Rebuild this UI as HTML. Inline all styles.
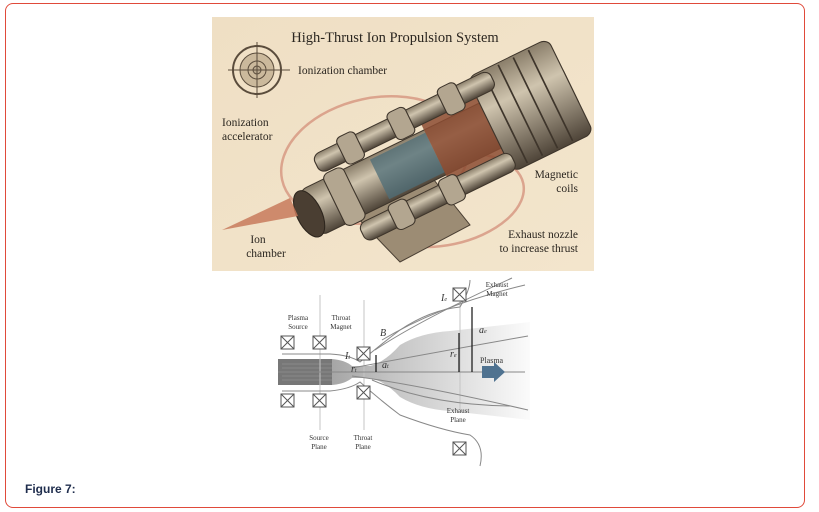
<!DOCTYPE html>
<html><head><style>
body{margin:0;width:819px;height:512px;background:#fff;position:relative;font-family:"Liberation Sans",sans-serif;overflow:hidden}
.frame{position:absolute;left:5px;top:3px;width:800px;height:505px;border:1px solid #e04a3a;border-radius:8px;box-sizing:border-box}
.fig{position:absolute;left:25px;top:482px;font-size:12px;font-weight:bold;color:#1f2d4d}
svg{position:absolute;left:0;top:0}
</style></head><body>
<div class="frame"></div>
<svg width="819" height="512" viewBox="0 0 819 512" font-family="Liberation Serif, serif">
<defs>
<linearGradient id="bg" x1="0" y1="0" x2="1" y2="1"><stop offset="0" stop-color="#efdfc4"/><stop offset="1" stop-color="#f3e5cc"/></linearGradient>
<linearGradient id="cyl" x1="0" y1="0" x2="0" y2="1"><stop offset="0" stop-color="#8a7e6a"/><stop offset=".35" stop-color="#cfc4ae"/><stop offset="1" stop-color="#4e4438"/></linearGradient>
<linearGradient id="plume" x1="0" y1="0" x2="1" y2="0"><stop offset="0" stop-color="#8a8a8a"/><stop offset=".45" stop-color="#c4c4c4"/><stop offset="1" stop-color="#fbfbfb"/></linearGradient>
<g id="b"><rect x="0" y="0" width="13" height="13" fill="#fff" stroke="#555"/><line x1="0" y1="0" x2="13" y2="13" stroke="#555"/><line x1="13" y1="0" x2="0" y2="13" stroke="#555"/></g>
</defs>
<rect x="212" y="17" width="382" height="254" fill="url(#bg)"/>
<text x="395" y="42" font-size="14.5" text-anchor="middle" fill="#2b2620">High-Thrust Ion Propulsion System</text>
<g stroke="#5a4c3c" fill="none"><circle cx="257" cy="70" r="24" stroke-width="2"/><circle cx="257" cy="70" r="17" fill="#cbb99c"/><circle cx="257" cy="70" r="9"/><circle cx="257" cy="70" r="4" fill="#b8a88e"/><line x1="228" y1="70" x2="290" y2="70"/><line x1="257" y1="42" x2="257" y2="98"/></g>
<text x="298" y="74" font-size="11.5" fill="#2b2620">Ionization chamber</text>
<text x="222" y="126" font-size="11.5" fill="#2b2620">Ionization</text>
<text x="222" y="140" font-size="11.5" fill="#2b2620">accelerator</text>
<text x="578" y="178" font-size="11.5" fill="#2b2620" text-anchor="end">Magnetic</text>
<text x="578" y="192" font-size="11.5" fill="#2b2620" text-anchor="end">coils</text>
<text x="578" y="238" font-size="11.5" fill="#2b2620" text-anchor="end">Exhaust nozzle</text>
<text x="578" y="252" font-size="11.5" fill="#2b2620" text-anchor="end">to increase thrust</text>
<text x="258" y="243" font-size="11.5" fill="#2b2620" text-anchor="middle">Ion</text>
<text x="266" y="257" font-size="11.5" fill="#2b2620" text-anchor="middle">chamber</text>
<g fill="none" stroke="#d89a84" stroke-width="2.5" opacity=".85"><ellipse cx="375" cy="160" rx="95" ry="62" transform="rotate(-12 375 160)"/><ellipse cx="445" cy="200" rx="80" ry="45" transform="rotate(-12 445 200)"/></g>
<polygon points="350,210 430,175 470,225 400,262" fill="#9c8c74" stroke="#4a3f33"/>
<g transform="translate(440 150) rotate(-26) scale(1.12 1) translate(-425 -153)">
<rect x="295" y="128" width="260" height="50" rx="8" fill="url(#cyl)" stroke="#3e352b"/>
<rect x="365" y="131" width="55" height="44" fill="#4e6e78" opacity=".75"/>
<rect x="420" y="118" width="55" height="70" fill="#8c4c32" opacity=".85"/>
<rect x="475" y="100" width="80" height="105" rx="8" fill="url(#cyl)" stroke="#3e352b"/>
<g stroke="#3e352b" stroke-width="1.5"><line x1="490" y1="102" x2="490" y2="203"/><line x1="505" y1="102" x2="505" y2="203"/><line x1="520" y1="102" x2="520" y2="203"/><line x1="535" y1="102" x2="535" y2="203"/></g>
<rect x="320" y="102" width="175" height="20" rx="7" fill="url(#cyl)" stroke="#3e352b"/>
<rect x="330" y="184" width="150" height="20" rx="7" fill="url(#cyl)" stroke="#3e352b"/>
<g fill="#b3a690" stroke="#3e352b"><rect x="345" y="97" width="18" height="30" rx="5"/><rect x="395" y="97" width="18" height="30" rx="5"/><rect x="445" y="97" width="18" height="30" rx="5"/><rect x="360" y="180" width="18" height="28" rx="5"/><rect x="410" y="180" width="18" height="28" rx="5"/><rect x="320" y="124" width="20" height="58" rx="6"/></g>
<ellipse cx="295" cy="153" rx="11" ry="25" fill="#4a3e32" stroke="#2e261e"/>
</g>
<polygon points="222,230 290,198 298,216" fill="#c87a5c" opacity=".85"/>
<path d="M278 359 L332 359 Q345 360 352 366 L370 366 Q385 362 400 345 Q420 333 450 331 L530 322 L530 420 L450 411 Q420 409 400 397 Q385 381 370 378 L352 378 Q345 384 332 385 L278 385 Z" fill="url(#plume)"/>
<rect x="278" y="359" width="54" height="26" fill="#777"/>
<g stroke="#999" stroke-width=".6"><line x1="282" y1="364" x2="332" y2="364"/><line x1="282" y1="368" x2="332" y2="368"/><line x1="282" y1="376" x2="332" y2="376"/><line x1="282" y1="380" x2="332" y2="380"/></g>
<g stroke="#c4c4c4" fill="none"><line x1="320" y1="295" x2="320" y2="430"/><line x1="364" y1="300" x2="364" y2="430"/><line x1="460" y1="300" x2="460" y2="410"/></g>
<g stroke="#888" fill="none" stroke-width="1">
<line x1="278" y1="372" x2="525" y2="372"/>
<path d="M282 354 L330 354 Q350 355 360 362 Q380 345 400 330 Q430 310 460 307 Q470 290 470 280"/>
<path d="M282 391 L330 391 Q350 389 360 382 Q380 400 400 415 Q440 430 470 435 Q485 445 480 466"/>
<path d="M352 368 Q420 355 528 336"/><path d="M352 376 Q420 385 528 410"/>
<path d="M382 340 Q440 305 525 285"/><path d="M375 350 Q420 320 512 278"/>
<path d="M372 380 Q430 405 510 406"/>
</g>
<polygon points="482,366 494,366 494,362 505,372 494,382 494,378 482,378" fill="#4f7290"/>
<use href="#b" x="281" y="336"/><use href="#b" x="313" y="336"/><use href="#b" x="281" y="394"/><use href="#b" x="313" y="394"/><use href="#b" x="357" y="347"/><use href="#b" x="357" y="386"/><use href="#b" x="453" y="288"/><use href="#b" x="453" y="442"/>
<g stroke="#111" stroke-width="1.2"><line x1="459" y1="333" x2="459" y2="372"/><line x1="472" y1="307" x2="472" y2="372"/><line x1="376" y1="355" x2="376" y2="372"/></g>
<g font-size="7" fill="#333" text-anchor="middle">
<text x="298" y="320">Plasma</text><text x="298" y="329">Source</text>
<text x="341" y="320">Throat</text><text x="341" y="329">Magnet</text>
<text x="497" y="287">Exhaust</text><text x="497" y="296">Magnet</text>
<text x="458" y="413">Exhaust</text><text x="458" y="422">Plane</text>
<text x="319" y="440">Source</text><text x="319" y="449">Plane</text>
<text x="363" y="440">Throat</text><text x="363" y="449">Plane</text>
</g>
<g font-size="10" font-style="italic" fill="#333"><text x="441" y="301">I<tspan font-size="6">e</tspan></text><text x="345" y="359">I<tspan font-size="6">t</tspan></text><text x="479" y="333">a<tspan font-size="6">e</tspan></text><text x="450" y="357">r<tspan font-size="6">e</tspan></text><text x="382" y="368">a<tspan font-size="6">t</tspan></text><text x="351" y="372">r<tspan font-size="6">t</tspan></text><text x="380" y="336">B</text></g>
<text x="480" y="363" font-size="8" fill="#333">Plasma</text>
</svg>
<div class="fig">Figure 7:</div>
</body></html>
